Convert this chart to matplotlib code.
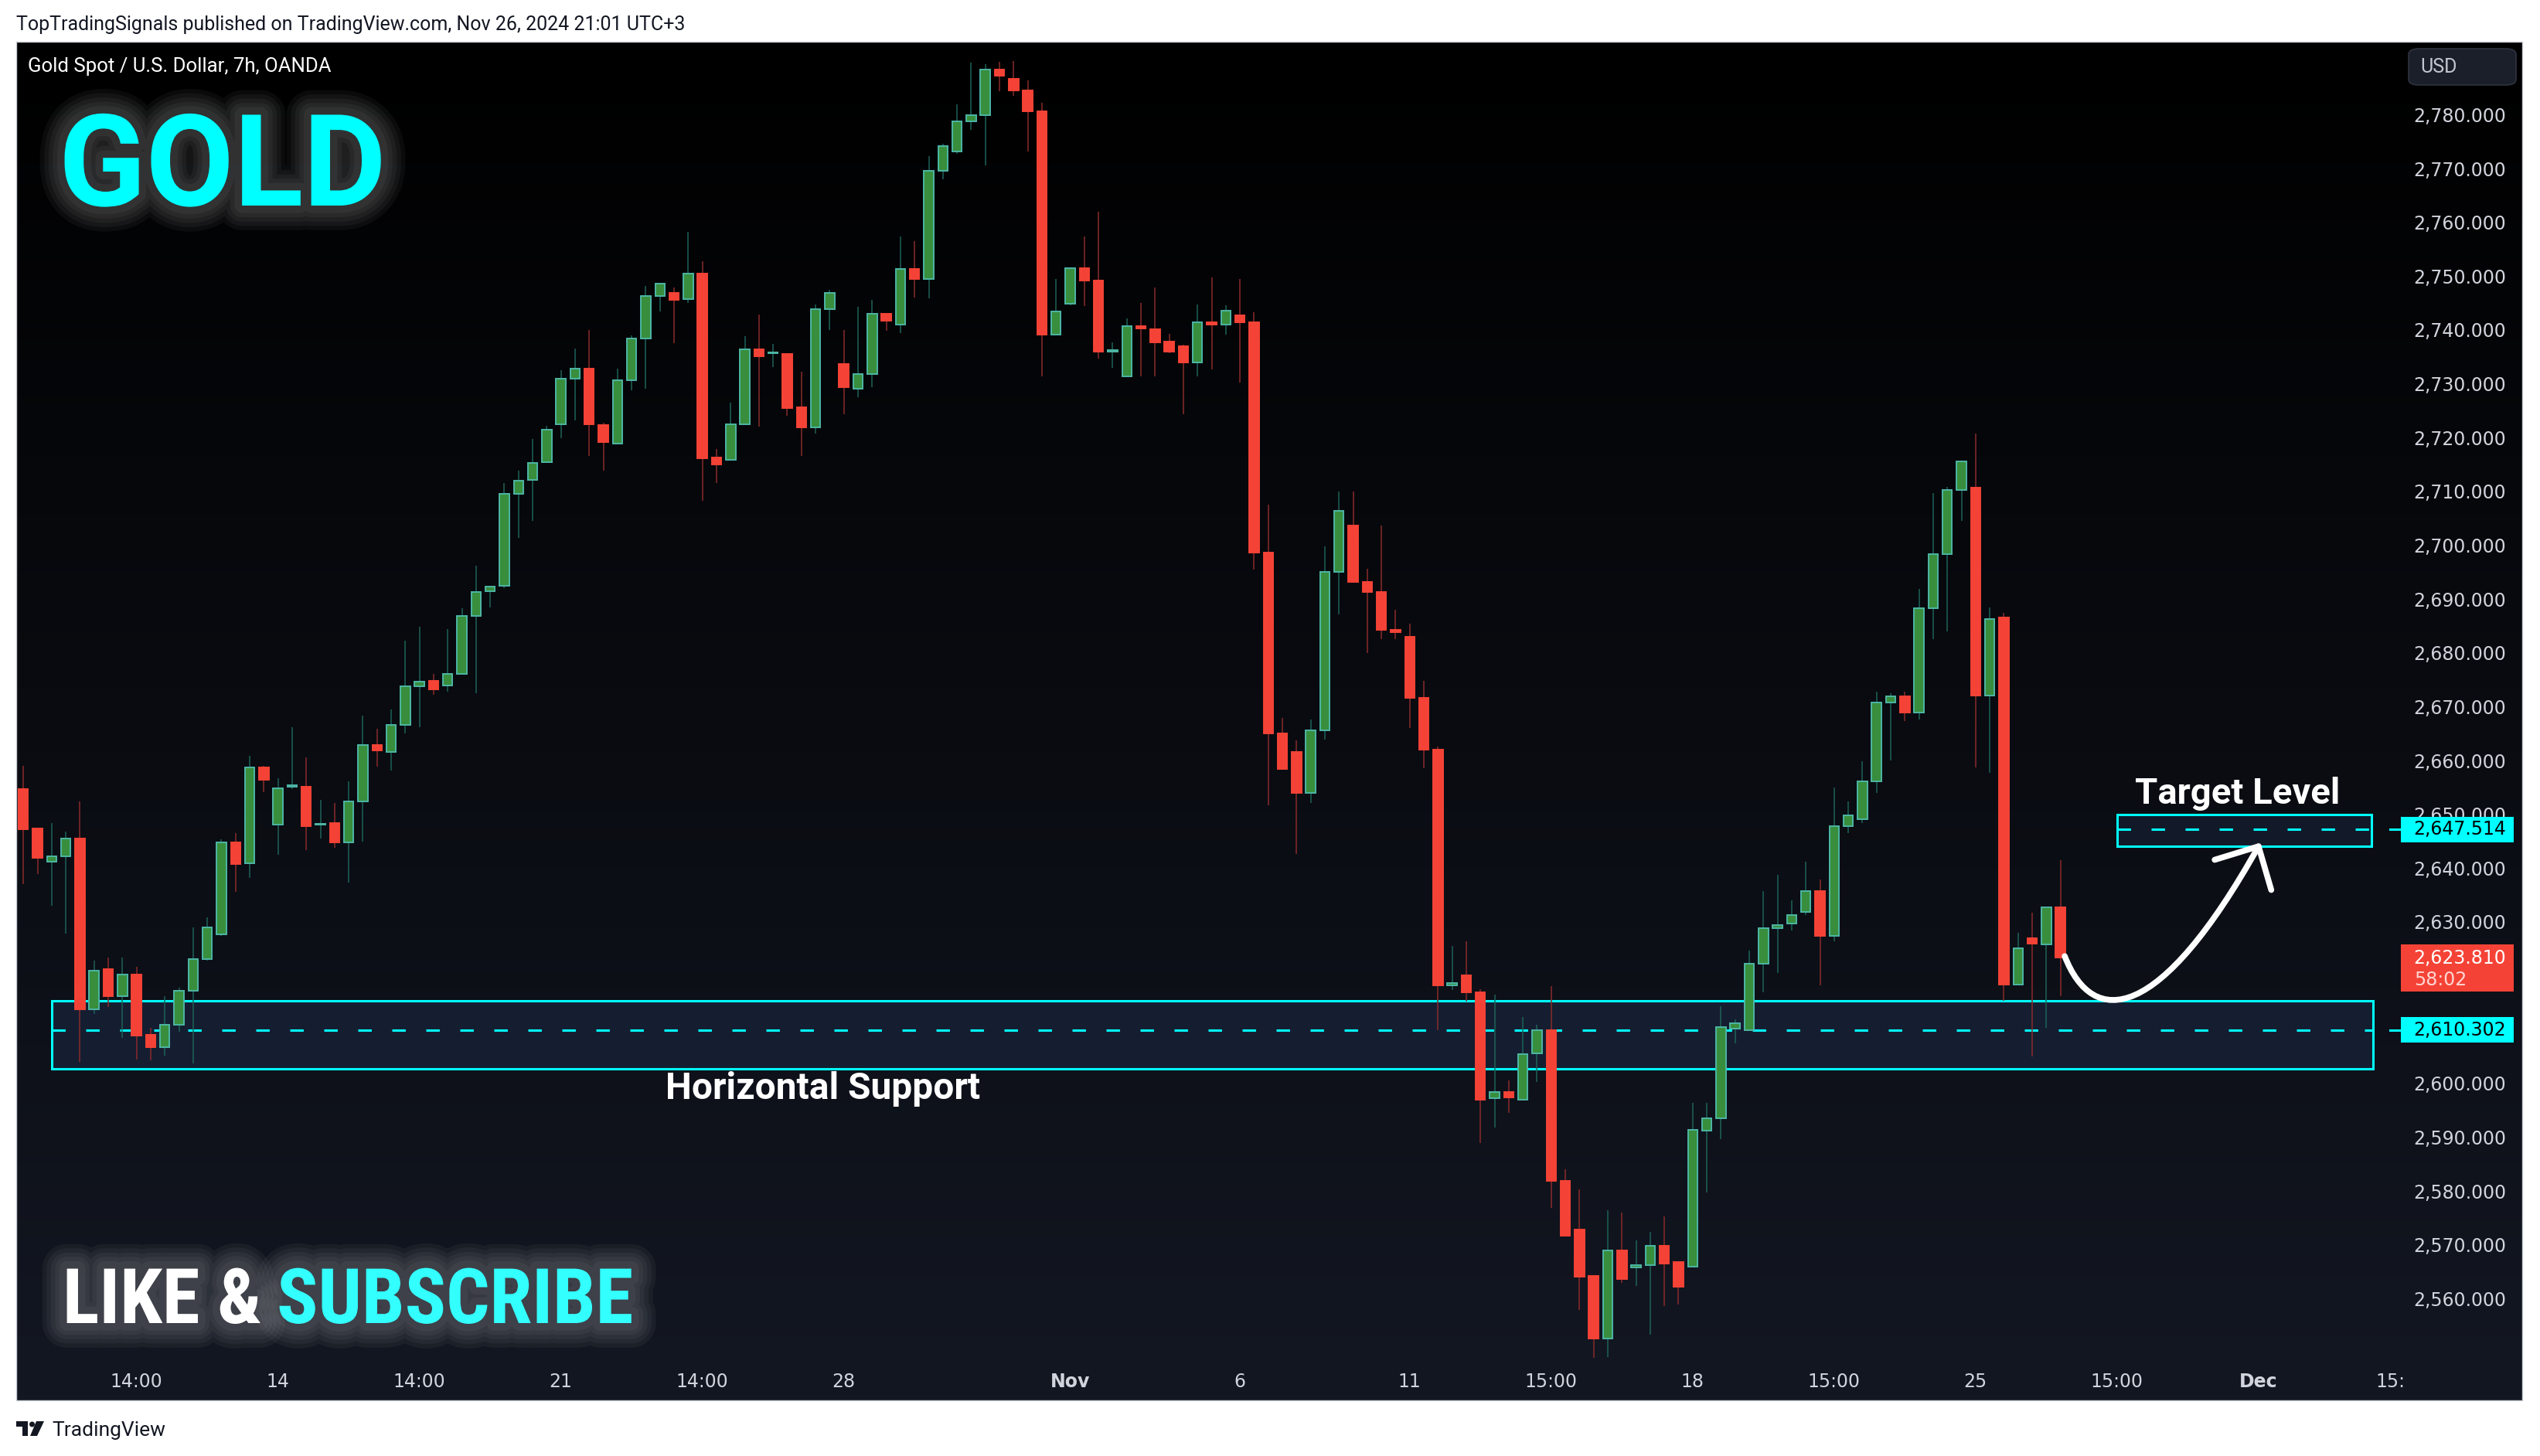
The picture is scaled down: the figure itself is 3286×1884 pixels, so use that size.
import numpy as np
import matplotlib
matplotlib.use("Agg")
import matplotlib.pyplot as plt
import matplotlib.patheffects as pe
from matplotlib.patches import Rectangle, FancyBboxPatch, Polygon, Circle, PathPatch
from matplotlib.path import Path
from matplotlib import font_manager

# XAUUSD 7h candles, Oct 10 -> Nov 26 2024
opens = [2655.0, 2647.7, 2641.6, 2642.6, 2645.9, 2614.1, 2621.6, 2616.6, 2620.6, 2609.4,
         2607.1, 2611.3, 2617.6, 2623.4, 2628.1, 2645.2, 2641.2, 2659.1, 2648.4, 2655.5,
         2655.5, 2648.4, 2648.8, 2645.2, 2652.7, 2663.3, 2661.9, 2667.0, 2674.1, 2675.1,
         2674.3, 2676.5, 2687.2, 2691.85, 2692.8, 2709.9, 2712.5, 2715.8, 2722.9, 2731.3,
         2733.2, 2722.7, 2719.2, 2731.0, 2738.8, 2746.7, 2747.2, 2746.1, 2750.8, 2716.6,
         2716.2, 2722.9, 2736.8, 2736.0, 2735.9, 2726.0, 2722.2, 2744.3, 2734.0, 2729.5,
         2732.1, 2743.4, 2741.3, 2751.7, 2749.8, 2769.9, 2773.5, 2779.1, 2780.3, 2788.7,
         2787.0, 2784.9, 2781.0, 2739.5, 2745.3, 2751.9, 2749.6, 2736.4, 2731.8, 2741.1,
         2740.5, 2738.2, 2737.3, 2734.3, 2741.8, 2741.3, 2743.1, 2741.8, 2699.0, 2665.4,
         2661.9, 2654.3, 2666.0, 2695.4, 2704.0, 2693.5, 2691.6, 2684.7, 2683.4, 2672.0,
         2662.3, 2618.6, 2620.4, 2617.3, 2597.6, 2598.7, 2597.3, 2605.9, 2610.3, 2582.2,
         2573.2, 2564.6, 2553.0, 2569.3, 2566.2, 2566.6, 2570.2, 2567.1, 2566.3, 2591.6,
         2593.8, 2610.5, 2610.2, 2622.6, 2629.2, 2630.0, 2632.2, 2636.1, 2627.8, 2648.2,
         2649.5, 2656.5, 2671.2, 2672.3, 2669.3, 2688.7, 2698.7, 2710.6, 2711.0, 2672.4,
         2686.9, 2618.7, 2627.4, 2626.2, 2633.1]
highs = [2659.3, 2647.8, 2648.8, 2647.1, 2652.7, 2623.2, 2623.8, 2623.8, 2622.0, 2610.6,
         2616.5, 2618.1, 2629.3, 2631.2, 2645.7, 2646.8, 2661.2, 2659.3, 2657.0, 2666.5,
         2660.9, 2653.0, 2652.5, 2656.5, 2668.7, 2666.3, 2669.8, 2682.6, 2685.2, 2676.5,
         2684.8, 2688.6, 2696.5, 2692.8, 2711.9, 2714.2, 2720.1, 2722.5, 2732.9, 2736.9,
         2740.4, 2723.1, 2733.2, 2739.4, 2748.5, 2749.0, 2748.3, 2758.6, 2753.1, 2718.3,
         2726.8, 2739.2, 2743.2, 2737.8, 2736.0, 2732.6, 2745.1, 2747.8, 2740.4, 2744.7,
         2746.0, 2743.5, 2757.8, 2756.9, 2772.7, 2775.0, 2782.3, 2790.1, 2789.8, 2790.2,
         2790.3, 2786.7, 2782.6, 2749.8, 2751.9, 2757.8, 2762.3, 2738.1, 2742.5, 2745.4,
         2748.3, 2739.6, 2737.6, 2745.1, 2750.1, 2744.9, 2749.8, 2743.7, 2707.9, 2668.2,
         2664.1, 2668.0, 2700.1, 2710.3, 2710.3, 2696.0, 2704.0, 2688.4, 2685.8, 2675.1,
         2663.0, 2625.9, 2626.7, 2617.9, 2616.8, 2600.9, 2612.7, 2611.3, 2618.4, 2584.4,
         2580.7, 2564.6, 2576.8, 2576.3, 2571.2, 2572.8, 2575.6, 2567.3, 2596.8, 2596.8,
         2614.7, 2612.2, 2625.1, 2636.1, 2639.1, 2634.4, 2641.5, 2638.2, 2655.3, 2652.8,
         2660.2, 2673.2, 2672.9, 2673.2, 2692.2, 2710.0, 2711.2, 2716.0, 2721.1, 2688.8,
         2687.8, 2628.4, 2632.1, 2633.1, 2641.9]
lows = [2637.4, 2639.3, 2633.4, 2628.2, 2604.4, 2613.3, 2614.6, 2608.8, 2604.8, 2604.6,
        2605.5, 2609.9, 2604.0, 2623.1, 2627.8, 2635.9, 2638.5, 2654.5, 2642.9, 2655.1,
        2643.7, 2645.9, 2644.1, 2637.7, 2645.3, 2659.2, 2658.5, 2665.4, 2666.6, 2672.6,
        2673.1, 2676.3, 2672.9, 2688.8, 2692.4, 2701.7, 2704.9, 2715.6, 2720.2, 2723.6,
        2716.9, 2714.2, 2719.1, 2729.1, 2729.4, 2743.8, 2737.9, 2745.4, 2708.6, 2711.9,
        2716.1, 2722.8, 2722.4, 2733.5, 2724.4, 2716.9, 2721.1, 2740.4, 2724.7, 2727.9,
        2729.7, 2740.2, 2739.8, 2746.4, 2746.2, 2768.4, 2773.1, 2777.6, 2771.0, 2784.7,
        2783.8, 2773.5, 2731.7, 2739.5, 2744.9, 2744.8, 2735.1, 2733.3, 2731.8, 2731.8,
        2731.8, 2736.0, 2724.7, 2731.8, 2733.1, 2739.5, 2730.6, 2695.9, 2652.0, 2658.8,
        2643.0, 2652.5, 2664.2, 2687.5, 2693.5, 2680.3, 2682.9, 2682.9, 2666.4, 2658.9,
        2610.3, 2617.7, 2615.5, 2589.3, 2592.1, 2594.9, 2597.3, 2600.6, 2577.2, 2572.1,
        2558.3, 2549.3, 2549.5, 2563.3, 2562.7, 2553.7, 2558.9, 2559.2, 2566.3, 2580.1,
        2590.0, 2607.8, 2610.2, 2617.3, 2620.8, 2628.7, 2631.7, 2618.6, 2626.7, 2646.8,
        2648.8, 2654.3, 2660.3, 2667.7, 2668.0, 2682.9, 2684.3, 2704.9, 2659.0, 2658.1,
        2615.7, 2618.7, 2605.4, 2610.7, 2616.6]
closes = [2647.6, 2642.2, 2642.6, 2645.9, 2614.1, 2621.3, 2616.5, 2620.6, 2609.3, 2607.1,
          2611.3, 2617.6, 2623.4, 2629.4, 2645.1, 2641.1, 2659.1, 2656.8, 2655.2, 2655.8,
          2648.2, 2648.6, 2645.2, 2652.7, 2663.3, 2662.2, 2666.9, 2674.1, 2675.0, 2673.6,
          2676.5, 2687.2, 2691.7, 2692.7, 2709.9, 2712.4, 2715.7, 2721.8, 2731.3, 2733.2,
          2722.8, 2719.5, 2731.0, 2738.8, 2746.7, 2748.9, 2746.0, 2750.8, 2716.5, 2715.4,
          2722.9, 2736.8, 2735.4, 2736.2, 2725.9, 2722.2, 2744.3, 2747.2, 2729.7, 2732.1,
          2743.3, 2742.1, 2751.7, 2749.8, 2769.9, 2774.6, 2779.1, 2780.3, 2788.7, 2787.6,
          2784.9, 2781.0, 2739.5, 2743.8, 2751.9, 2749.6, 2736.3, 2736.5, 2741.1, 2740.6,
          2738.1, 2736.4, 2734.3, 2741.8, 2741.3, 2743.9, 2741.8, 2699.0, 2665.4, 2658.8,
          2654.3, 2666.0, 2695.4, 2706.7, 2693.5, 2691.6, 2684.7, 2684.2, 2672.0, 2662.3,
          2618.6, 2619.0, 2617.3, 2597.3, 2598.7, 2597.7, 2605.8, 2610.3, 2582.2, 2572.1,
          2564.4, 2553.0, 2569.3, 2564.0, 2566.6, 2570.2, 2566.8, 2562.5, 2591.7, 2593.8,
          2610.8, 2611.6, 2622.6, 2629.2, 2629.8, 2631.7, 2636.1, 2627.8, 2648.2, 2650.1,
          2656.5, 2671.2, 2672.3, 2669.3, 2688.6, 2698.7, 2710.6, 2716.0, 2672.4, 2686.6,
          2618.7, 2625.5, 2626.3, 2633.1, 2623.8]

time_pos = [8, 18, 28, 38, 48, 58, 74, 86, 98, 108, 118, 128, 138, 148, 158]
time_labels = ["14:00", "14", "14:00", "21", "14:00", "28", "Nov", "6", "11",
               "15:00", "18", "15:00", "25", "15:00", "Dec"]
# 2,610 and 2,620 sit fully under the level labels, so they are not printed
price_ticks = [p for p in range(2560, 2790, 10) if p not in (2610, 2620)]

support_level = 2610.302
support_zone = (2603.0, 2615.7)
target_level = 2647.514
target_zone = (2644.4, 2650.3)
last_price = 2623.810
countdown = "58:02"

# projected path drawn on the chart (bar index, price)
arrow_curve = [(144.3, 2624.0), (146.3, 2610.5), (151.0, 2611.5), (158.0, 2644.4)]
arrow_head = [(154.9, 2641.9), (158.0, 2644.4), (158.9, 2636.3)]

CYAN = "#00ffff"
W, H = 3286, 1884

names = {f.name for f in font_manager.fontManager.ttflist}
narrow = next((n for n in ["Liberation Sans Narrow", "Roboto Condensed", "Open Sans Condensed"]
               if n in names), "Roboto")
ui_font = ["Roboto", "DejaVu Sans"]

fig = plt.figure(figsize=(W / 100, H / 100), dpi=100)
fig.patch.set_facecolor("white")


def fpos(px, py):
    return px / W, 1 - py / H


# chart pane (pixels): left 21, right 3263, top 54, bottom 1812
rect = [21 / W, 1 - 1812 / H, (3263 - 21) / W, (1812 - 54) / H]
bg = fig.add_axes(rect, zorder=0)
grad = np.linspace(0, 1, 256)[:, None, None] * np.array([19, 23, 34]) / 255.0
bg.imshow(grad, aspect="auto", extent=(0, 1, 0, 1), origin="upper")
bg.set_axis_off()

ax = fig.add_axes(rect, zorder=1)
ax.patch.set_alpha(0)
ax.set_xlim(-0.503, 176.64)
ax.set_ylim(2541.45, 2793.92)
ax.set_axis_off()

# zones
ax.add_patch(Rectangle((2.0, support_zone[0]), 164.1, support_zone[1] - support_zone[0],
                       facecolor="#151e31", edgecolor=CYAN, linewidth=2.2, zorder=2))
ax.plot([2.0, 166.1], [support_level] * 2, color=CYAN, lw=2.2, dashes=(5.7, 8.7), zorder=2)
ax.add_patch(Rectangle((148.0, target_zone[0]), 18.0, target_zone[1] - target_zone[0],
                       facecolor="#121a2a", edgecolor=CYAN, linewidth=2.2, zorder=2))
ax.plot([148.0, 166.0], [target_level] * 2, color=CYAN, lw=2.2, dashes=(5.7, 8.7), zorder=2)
for lvl in (support_level, target_level):
    ax.plot([167.3, 168.0], [lvl, lvl], color=CYAN, lw=2.2, zorder=2)

# candles
o, h, l, c = map(np.array, (opens, highs, lows, closes))
x = np.arange(len(o))
up = c >= o
body_lo = np.minimum(o, c)
body_h = np.maximum(np.abs(c - o), 0.15)
ax.vlines(x[up], l[up], h[up], color="#1d6258", lw=1.1, zorder=3)
ax.vlines(x[~up], l[~up], h[~up], color="#8a2b2b", lw=1.1, zorder=3)
ax.bar(x[up], body_h[up], bottom=body_lo[up], width=0.68, color="#388e3c",
       edgecolor="#4db6a6", linewidth=1.4, zorder=4)
ax.bar(x[~up], body_h[~up], bottom=body_lo[~up], width=0.68, color="#f44336",
       edgecolor="#f44336", linewidth=1.4, zorder=4)

# projected move arrow
curve = Path(arrow_curve, [Path.MOVETO, Path.CURVE4, Path.CURVE4, Path.CURVE4])
ax.add_patch(PathPatch(curve, facecolor="none", edgecolor="white", lw=5.5,
                       capstyle="round", zorder=5))
hx, hy = zip(*arrow_head)
ax.plot(hx, hy, color="white", lw=5.5, solid_capstyle="round", solid_joinstyle="round", zorder=5)

ax.text(56.5, 2597.4, "Horizontal Support", color="white", fontsize=34.5, fontweight="bold",
        family=ui_font, ha="center", va="baseline", zorder=6)
ax.text(156.5, 2652.3, "Target Level", color="white", fontsize=34, fontweight="bold",
        family=ui_font, ha="center", va="baseline", zorder=6)

# price scale
for p in price_ticks:
    ax.text(175.5, p, f"{p:,.3f}", color="#d1d4dc", fontsize=17, ha="right", va="center",
            family="DejaVu Sans", zorder=6)
for lvl in (target_level, support_level):
    ax.add_patch(Rectangle((168.08, lvl - 2.35), 7.97, 4.7, facecolor=CYAN, edgecolor="none", zorder=7))
    ax.text(175.5, lvl, f"{lvl:,.3f}", color="black", fontsize=17, ha="right", va="center",
            family="DejaVu Sans", zorder=8)
ax.add_patch(Rectangle((168.08, 2617.4), 7.97, 8.8, facecolor="#f44336", edgecolor="none", zorder=7))
ax.text(175.5, 2623.6, f"{last_price:,.3f}", color="white", fontsize=17, ha="right", va="center",
        family="DejaVu Sans", zorder=8)
ax.text(169.0, 2619.6, countdown, color="#ffd6d2", fontsize=17, ha="left", va="center",
        family="DejaVu Sans", zorder=8)

# time scale
for pos, lab in zip(time_pos, time_labels):
    bold = lab in ("Nov", "Dec")
    ax.text(pos, 0.0137, lab, transform=ax.get_xaxis_transform(), color="#d1d4dc", fontsize=17,
            fontweight="bold" if bold else "normal", ha="center", va="center",
            family="DejaVu Sans", zorder=6)
ax.text(166.3, 0.0137, "15:", transform=ax.get_xaxis_transform(), color="#d1d4dc", fontsize=17,
        ha="left", va="center", family="DejaVu Sans", zorder=6)

# pane border + USD box
fig.add_artist(Rectangle(fpos(21, 1812), (3263 - 21) / W, (1812 - 54) / H, transform=fig.transFigure,
                         facecolor="none", edgecolor="#c9ccd3", linewidth=1.0, zorder=10))
fig.add_artist(FancyBboxPatch(fpos(3116, 110), (3255 - 3116) / W, (110 - 63) / H,
                              boxstyle="round,pad=0,rounding_size=0.004", transform=fig.transFigure,
                              facecolor="#1b1f2a", edgecolor="#2f3340", linewidth=1.2, zorder=10))
fig.text(*fpos(3131, 87), "USD", color="#c3c6ce", fontsize=18, va="center", family=ui_font, zorder=11)

# header / footer texts
fig.text(*fpos(21, 39), "TopTradingSignals published on TradingView.com, Nov 26, 2024 21:01 UTC+3",
         color="#131722", fontsize=18, va="baseline", family=ui_font)
fig.text(*fpos(36, 93), "Gold Spot / U.S. Dollar, 7h, OANDA", color="white", fontsize=18.5,
         va="baseline", family=ui_font, zorder=11)
fig.text(*fpos(67, 1858), "TradingView", color="#131722", fontsize=19, va="baseline", family=ui_font)


def px_inch(px, py):
    return px / 100, (H - py) / 100


logo = dict(transform=fig.dpi_scale_trans, facecolor="#131722", edgecolor="none")
fig.add_artist(Polygon([px_inch(21, 1839), px_inch(36, 1839), px_inch(36, 1858), px_inch(29, 1858),
                        px_inch(29, 1846), px_inch(21, 1846)], **logo))
fig.add_artist(Circle(px_inch(41.5, 1843), 0.035, **logo))
fig.add_artist(Polygon([px_inch(47, 1839), px_inch(57, 1839), px_inch(48, 1858), px_inch(39, 1858)], **logo))


def glow():
    fx = [pe.Stroke(linewidth=lw, foreground="white", alpha=0.045) for lw in (46, 38, 30, 22, 14)]
    return fx + [pe.Normal()]


fig.text(*fpos(76, 266), "GOLD", color=CYAN, fontsize=119, fontweight="bold", family=ui_font,
         va="baseline", path_effects=glow(), zorder=12)

like = fig.text(*fpos(81, 1712), "LIKE &", color="white", fontsize=60, fontweight="bold",
                family=[narrow, "DejaVu Sans"], va="baseline", path_effects=glow(), zorder=12)
sub = fig.text(*fpos(358, 1712), "SUBSCRIBE", color="#33ffff", fontsize=60, fontweight="bold",
               family=[narrow, "DejaVu Sans"], va="baseline", path_effects=glow(), zorder=12)
r = fig.canvas.get_renderer()
w_sub = sub.get_window_extent(renderer=r).width
size = sub.get_fontsize() * 461 / w_sub
w_like = like.get_window_extent(renderer=r).width * size / like.get_fontsize()
size = min(size, like.get_fontsize() * 268 / like.get_window_extent(renderer=r).width)
for t in (like, sub):
    t.set_fontsize(size)

fig.savefig("out.png", dpi=100, facecolor=fig.get_facecolor())
